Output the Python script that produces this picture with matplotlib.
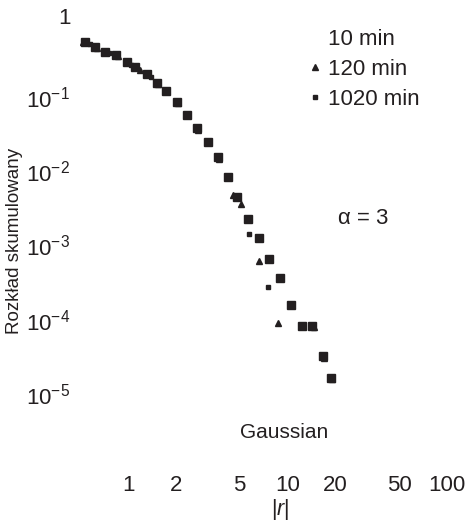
import matplotlib
matplotlib.use("Agg")
import matplotlib.pyplot as plt
from matplotlib.lines import Line2D
from matplotlib.transforms import ScaledTranslation

plt.rcParams['font.family'] = ['Liberation Sans', 'DejaVu Sans']
plt.rcParams['mathtext.fontset'] = 'custom'
plt.rcParams['mathtext.rm'] = 'Liberation Sans'
plt.rcParams['mathtext.it'] = 'Liberation Sans:italic'

# ------------------------------------------------------------
# data
# ------------------------------------------------------------

# 10 min (large squares)
r_10 = [0.54, 0.62, 0.72, 0.84, 0.99, 1.11, 1.32, 1.52, 1.73, 2.03, 2.34, 2.71,
        3.17, 3.67, 4.24, 4.82, 5.65, 6.63, 7.66, 8.98, 10.5, 12.3, 14.3, 16.7, 18.7]
p_10 = [0.551, 0.471, 0.404, 0.368, 0.296, 0.253, 0.204, 0.155, 0.120, 0.0857,
        0.0573, 0.0382, 0.0248, 0.0156, 0.00837, 0.0045, 0.00227, 0.00126,
        6.58e-4, 3.65e-4, 1.58e-4, 8.24e-5, 8.24e-5, 3.25e-5, 1.64e-5]

# 120 min (triangles)
r_120 = [0.52, 0.64, 0.86, 1.19, 1.55, 2.07, 2.76, 3.72, 4.55, 5.1, 6.63, 8.73,
         14.6, 17.0, 18.9]
p_120 = [0.551, 0.455, 0.36, 0.231, 0.150, 0.082, 0.036, 0.0148, 0.00478,
         0.00365, 6.2e-4, 9.0e-5, 8.0e-5, 3.1e-5, 1.58e-5]

# 1020 min (small squares)
r_1020 = [0.58, 0.76, 1.05, 1.40, 1.76, 2.38, 3.22, 4.30, 5.74, 7.55]
p_1020 = [0.51, 0.39, 0.272, 0.185, 0.116, 0.055, 0.0238, 0.0080,
          1.43e-3, 2.76e-4]

x_ticks = [1, 2, 5, 10, 20, 50, 100]
x_tick_labels = ['1', '2', '5', '10', '20', '50', '100']
y_ticks = [1, 1e-1, 1e-2, 1e-3, 1e-4, 1e-5]
y_tick_labels = ['1', '$10^{-1}$', '$10^{-2}$', '$10^{-3}$', '$10^{-4}$', '$10^{-5}$']

ink = '#231f20'

# ------------------------------------------------------------
# figure
# ------------------------------------------------------------

W, H = 467, 521
fig = plt.figure(figsize=(W / 100, H / 100), dpi=100)
ax = fig.add_axes([80 / W, (H - 468.25) / H, 379.7 / W, 458.6 / H])

ax.plot(r_10, p_10, linestyle='none', marker='s', markersize=6.2, color=ink)
ax.plot(r_120, p_120, linestyle='none', marker='^', markersize=4.2, color=ink)
ax.plot(r_1020, p_1020, linestyle='none', marker='s', markersize=3.4, color=ink)

ax.set_xscale('log')
ax.set_yscale('log')
ax.set_xlim(0.5, 120)
ax.set_ylim(1e-6, 1.5)

ax.set_xticks(x_ticks)
ax.set_xticklabels(x_tick_labels)
ax.set_yticks(y_ticks)
ax.set_yticklabels(y_tick_labels)
ax.minorticks_off()
ax.tick_params(length=0, labelsize=16, colors=ink)
ax.tick_params(axis='x', pad=5)
ax.tick_params(axis='y', pad=7)

# the "1" label sits a little higher in the original
lbl = ax.get_yticklabels()[0]
lbl.set_transform(lbl.get_transform() + ScaledTranslation(0, 0.07, fig.dpi_scale_trans))

for s in ax.spines.values():
    s.set_visible(False)

# labels and notes
fig.text(280 / W, 1 - 510 / H, r'$|r|$', ha='center', va='center',
         fontsize=15.5, color=ink)
fig.text(15 / W, 1 - 241 / H, 'Rozkład skumulowany', rotation=90,
         ha='center', va='center', fontsize=13.5, color=ink)
ax.text(9.5, 3e-6, 'Gaussian', ha='center', va='center', fontsize=15, color=ink)
ax.text(20.7, 2.34e-3, 'α = 3', ha='left', va='center', fontsize=16, color=ink)

handles = [
    Line2D([], [], linestyle='none', marker=None, label='10 min'),
    Line2D([], [], linestyle='none', marker='^', markersize=4.2, color=ink, label='120 min'),
    Line2D([], [], linestyle='none', marker='s', markersize=3.4, color=ink, label='1020 min'),
]
fig.legend(handles=handles, loc='upper left', bbox_to_anchor=(308 / W, 1 - 29 / H),
           bbox_transform=fig.transFigure, frameon=False, fontsize=16,
           handlelength=0.6, handletextpad=0.3, borderpad=0, borderaxespad=0,
           labelspacing=0.4, labelcolor=ink)

fig.savefig('out.png', dpi=100)
